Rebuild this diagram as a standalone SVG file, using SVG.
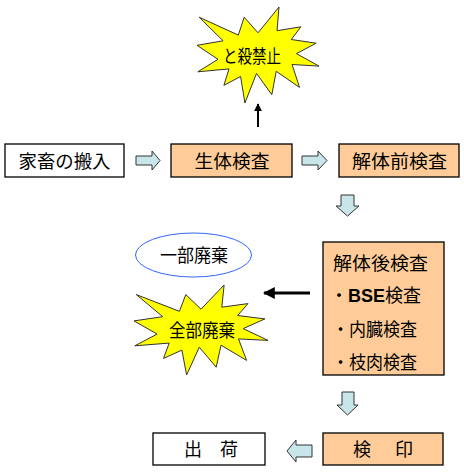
<svg xmlns="http://www.w3.org/2000/svg" width="464" height="472" viewBox="0 0 464 472">
<defs>
<style>
.box{stroke:#000;stroke-width:1.3}
.org{fill:#FFCC99}
.wht{fill:#fff}
.t{font-family:"Noto Sans CJK JP","Liberation Sans",sans-serif;font-size:18px;fill:#000}
.tc{text-anchor:middle}
.star{fill:#FFFF00;stroke:#333;stroke-width:1}
.blk{fill:#C8E6EA;stroke:#333;stroke-width:1}
.b{font-family:"Liberation Sans",Arial,sans-serif;font-weight:bold}
</style>
<marker id="ah" viewBox="0 0 10 10" refX="9" refY="5" markerWidth="4" markerHeight="4" orient="auto">
<path d="M0,0 L10,5 L0,10 z" fill="#000"/>
</marker>
</defs>
<rect width="464" height="472" fill="#fff"/>

<g id="stop">
<polygon class="star" points="258,32.8 279,7 277,30.7 300.8,26.8 291.3,39.5 316.2,43.2 296.4,53.6 319,66.1 292.1,64.5 299.5,87.4 276.2,71.3 271.8,94.7 256.5,73.4 244.9,103 240.6,76.5 223.9,85.3 229,68.9 197.8,71.8 218,59.3 197,45.3 223.1,40.8 199.1,17.2 238.3,35.1 244.2,17.2"/>
<text class="t tc" x="252" y="63" font-size="16" textLength="58" lengthAdjust="spacingAndGlyphs">と殺禁止</text>
</g>

<g id="intake">
<rect class="box wht" x="5" y="144" width="119" height="33"/>
<text class="t tc" x="64.5" y="167.5" textLength="92" lengthAdjust="spacingAndGlyphs">家畜の搬入</text>
</g>

<g id="live">
<rect class="box org" x="171" y="144" width="121" height="33"/>
<text class="t tc" x="232" y="167.5" textLength="75" lengthAdjust="spacingAndGlyphs">生体検査</text>
</g>

<g id="pre">
<rect class="box org" x="339" y="144" width="120" height="33"/>
<text class="t tc" x="399.5" y="167.5" textLength="95" lengthAdjust="spacingAndGlyphs">解体前検査</text>
</g>

<g id="partial">
<ellipse cx="193.5" cy="255" rx="58" ry="22" fill="#fff" stroke="#3366FF" stroke-width="1"/>
<text class="t tc" x="194" y="262" font-size="17" textLength="68" lengthAdjust="spacingAndGlyphs">一部廃棄</text>
</g>

<g id="total">
<polygon class="star" points="201,309.2 224.1,285 221.8,307.2 248,303.6 237.6,315.5 264.9,318.9 243.2,328.6 268,340.4 238.5,338.9 246.6,360.4 221,345.2 216.2,367.2 199.3,347.2 186.6,375 181.9,350.1 163.5,358.4 169.2,343.1 134.8,345.8 157.1,334.1 134,320.9 162.7,316.7 136.3,294.6 179.4,311.3 185.8,294.6"/>
<text class="t tc" x="202" y="336.5" font-size="17" textLength="66" lengthAdjust="spacingAndGlyphs">全部廃棄</text>
</g>

<g id="post">
<rect class="box org" x="323" y="242" width="121" height="133"/>
<text class="t" x="333" y="269.5" textLength="95" lengthAdjust="spacingAndGlyphs">解体後検査</text>
<text class="t" x="330" y="302">・<tspan class="b">BSE</tspan>検査</text>
<text class="t" x="332" y="335.5" textLength="85" lengthAdjust="spacingAndGlyphs">・内臓検査</text>
<text class="t" x="332" y="368.5" textLength="85" lengthAdjust="spacingAndGlyphs">・枝肉検査</text>
</g>

<g id="ship">
<rect class="box wht" x="153" y="433" width="112" height="32"/>
<text class="t tc" x="211" y="456" textLength="54" lengthAdjust="spacing">出　荷</text>
</g>

<g id="stamp">
<rect class="box org" x="323" y="433" width="120" height="32"/>
<text class="t tc" x="383" y="456" textLength="60" lengthAdjust="spacing">検　印</text>
</g>

<g id="connectors">
<path class="blk" d="M136,156 H152 V151 L160,160.5 L152,170 V165 H136 Z"/>
<path class="blk" d="M302,156 H318 V151 L327,160.5 L318,170 V165 H302 Z"/>
<path class="blk" d="M341,195 H354 V206 H359 L347.5,216 L336,206 H341 Z"/>
<path class="blk" d="M342,392 H354 V405 H358 L347.5,415 L337,405 H342 Z"/>
<path class="blk" d="M312,445 H296 V440 L287,451 L296,462 V457 H312 Z"/>
<line x1="258" y1="127" x2="258" y2="104" stroke="#000" stroke-width="2" marker-end="url(#ah)"/>
<line x1="310" y1="293" x2="264" y2="293" stroke="#000" stroke-width="3" marker-end="url(#ah)"/>
</g>
</svg>
